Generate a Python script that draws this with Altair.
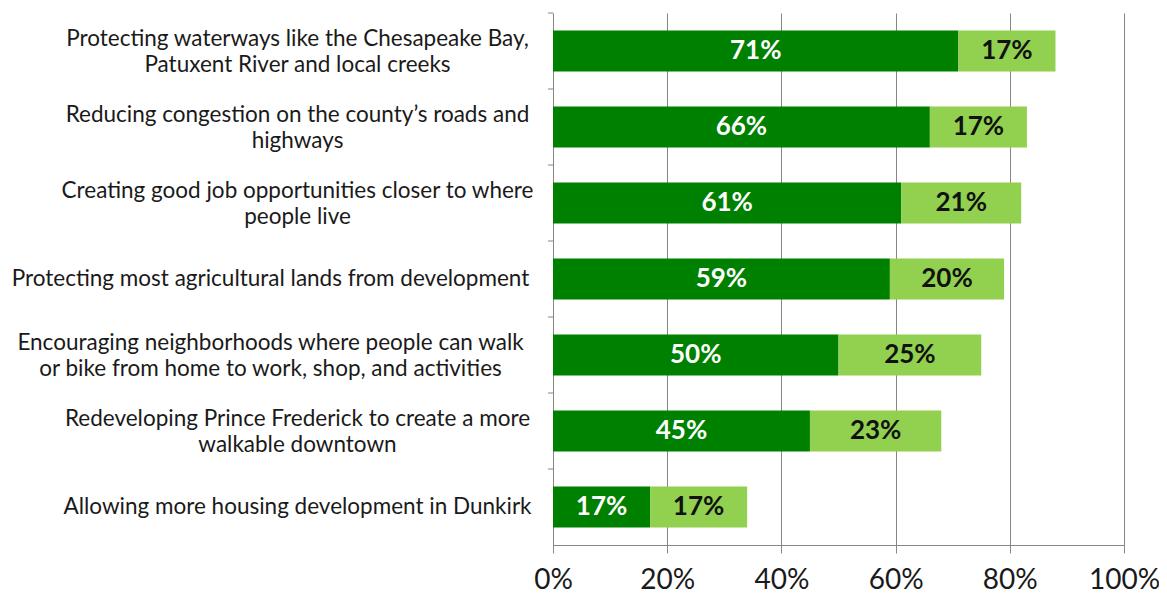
import altair as alt
import pandas as pd

categories = [
    "Protecting waterways like the Chesapeake Bay,\nPatuxent River and local creeks",
    "Reducing congestion on the county\u2019s roads and\nhighways",
    "Creating good job opportunities closer to where\npeople live",
    "Protecting most agricultural lands from development",
    "Encouraging neighborhoods where people can walk\nor bike from home to work, shop, and activities",
    "Redeveloping Prince Frederick to create a more\nwalkable downtown",
    "Allowing more housing development in Dunkirk",
]
strong = [71, 66, 61, 59, 50, 45, 17]
somewhat = [17, 17, 21, 20, 25, 23, 17]
series_names = ["strong", "somewhat"]
series_colors = ["#008000", "#92D050"]
x_ticks = [0, 20, 40, 60, 80, 100]

rows = []
for c, a, b in zip(categories, strong, somewhat):
    rows.append({"cat": c, "series": "strong", "v": a / 100, "start": 0.0, "end": a / 100, "mid": a / 200})
    rows.append({"cat": c, "series": "somewhat", "v": b / 100, "start": a / 100, "end": (a + b) / 100,
                 "mid": (a + b / 2) / 100})
df = pd.DataFrame(rows)
cat_df = pd.DataFrame({"cat": categories})

FONT = "Lato"
GRAY = "#868686"

y_scale = alt.Scale(domain=categories, paddingInner=0, paddingOuter=0)
x_scale = alt.Scale(domain=[0, 1], nice=False)

y_axis = alt.Axis(
    labelExpr="isString(datum.label) ? split(datum.label, '\\n') : datum.label",
    labelAlign="center",
    labelBaseline={
        "condition": {"test": "isString(datum.value) && indexof(datum.value, '\\n') >= 0", "value": "bottom"},
        "value": "middle",
    },
    labelPadding={
        "condition": {
            "test": "isString(datum.value) && (indexof(datum.value, 'agricultural') >= 0 || indexof(datum.value, 'Encouraging') >= 0)",
            "value": 283,
        },
        "value": 256,
    },
    labelFont=FONT,
    labelFontSize=22.5,
    labelLineHeight=26,
    labelColor="#1a1a1a",
    labelLimit=0,
    ticks=False,
    domainColor=GRAY,
    grid=False,
)

x_axis = alt.Axis(
    values=[t / 100 for t in x_ticks],
    format=".0%",
    labelFont=FONT,
    labelFontSize=28,
    labelColor="#1a1a1a",
    labelPadding=13,
    labelFlush=False,
    tickSize=8,
    tickColor=GRAY,
    domainColor=GRAY,
    grid=True,
    gridColor=GRAY,
    gridWidth=1,
)

bars = alt.Chart(df).mark_bar(height=alt.RelativeBandSize(0.54)).encode(
    x=alt.X("start:Q", scale=x_scale, title=None, axis=x_axis),
    x2="end:Q",
    y=alt.Y("cat:N", scale=y_scale, title=None, axis=y_axis),
    color=alt.Color("series:N", scale=alt.Scale(domain=series_names, range=series_colors), legend=None),
)

labels = alt.Chart(df).mark_text(font=FONT, fontSize=26, fontWeight="bold", baseline="middle", align="center").encode(
    x=alt.X("mid:Q", scale=x_scale, title=None, axis=x_axis),
    y=alt.Y("cat:N", scale=y_scale, title=None, axis=y_axis),
    text=alt.Text("v:Q", format=".0%"),
    color=alt.condition("datum.series == 'strong'", alt.value("#ffffff"), alt.value("#111111")),
)

yticks = alt.Chart(cat_df).mark_rule(color=GRAY, strokeWidth=1).encode(
    y=alt.Y("cat:N", scale=y_scale, title=None, axis=y_axis, bandPosition=0),
    x=alt.value(-5),
    x2=alt.value(0),
)

chart = (
    alt.layer(bars, labels, yticks)
    .properties(
        width=571,
        height=532,
        autosize=alt.AutoSizeParams(type="none"),
        padding={"left": 545, "top": 5, "right": 35, "bottom": 50},
        background="white",
    )
    .configure_view(strokeWidth=0)
)

chart.save("out.html", embed_options={"renderer": "svg", "actions": False})
